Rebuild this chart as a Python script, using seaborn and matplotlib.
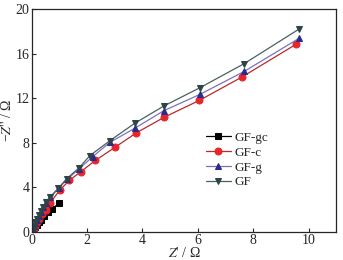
import pandas as pd
import matplotlib
matplotlib.use("Agg")
import matplotlib.pyplot as plt
import seaborn as sns

# Nyquist data (Z' , -Z'')
gc_x = [1.00, 0.75, 0.60, 0.45, 0.33, 0.25, 0.18, 0.12, 0.08, 0.05]
gc_y = [2.60, 2.10, 1.80, 1.40, 1.10, 0.85, 0.60, 0.40, 0.20, 0.05]

c_x = [9.55, 7.59, 6.05, 4.79, 3.77, 3.00, 2.30, 1.78, 1.36, 1.02, 0.66,
       0.50, 0.38, 0.28, 0.20, 0.13, 0.08, 0.04]
c_y = [16.85, 13.90, 11.80, 10.30, 8.88, 7.58, 6.42, 5.42, 4.63, 3.77, 2.60,
       2.00, 1.60, 1.20, 0.85, 0.55, 0.30, 0.10]

g_x = [9.67, 7.67, 6.08, 4.77, 3.72, 2.83, 2.20, 1.72, 1.28, 0.97, 0.66,
       0.50, 0.40, 0.32, 0.25, 0.18, 0.13, 0.09, 0.05, 0.03]
g_y = [17.40, 14.40, 12.35, 10.88, 9.30, 8.05, 6.75, 5.68, 4.72, 3.90, 3.10,
       2.60, 2.20, 1.80, 1.45, 1.10, 0.80, 0.50, 0.25, 0.05]

gf_x = [9.65, 7.67, 6.08, 4.77, 3.72, 2.83, 2.10, 1.71, 1.26, 0.96, 0.66,
        0.50, 0.40, 0.32, 0.25, 0.18, 0.13, 0.09, 0.05, 0.03]
gf_y = [18.20, 15.10, 12.95, 11.30, 9.75, 8.20, 6.85, 5.75, 4.78, 3.92, 3.12,
        2.65, 2.25, 1.85, 1.50, 1.15, 0.85, 0.55, 0.30, 0.08]

series = [
    ("GF-gc", gc_x, gc_y, "s", "black", "black"),
    ("GF-c", c_x, c_y, "o", "#b8282c", "#e8252a"),
    ("GF-g", g_x, g_y, "^", "#7a72b8", "#2a2a8a"),
    ("GF", gf_x, gf_y, "v", "#4a6066", "#2e4448"),
]

sns.set_style("ticks")
plt.rcParams["font.family"] = ["Liberation Serif", "DejaVu Serif"]
plt.rcParams["mathtext.fontset"] = "stix"

fig = plt.figure(figsize=(3.43, 2.6), dpi=100)
ax = fig.add_axes([0.0925, 0.108, 0.888, 0.857])

for name, xs, ys, mk, lc, mc in series:
    df = pd.DataFrame({"x": xs, "y": ys})
    sns.lineplot(data=df, x="x", y="y", sort=False, ax=ax, color=lc,
                 marker=mk, markersize=5, markerfacecolor=mc,
                 markeredgecolor=mc, linewidth=0.9, label=name)

ax.set_xlim(0, 11)
ax.set_ylim(0, 20)
ax.set_xticks([0, 2, 4, 6, 8, 10])
ax.set_yticks([0, 4, 8, 12, 16, 20])
ax.tick_params(direction="in", length=3, width=0.8, labelsize=10, pad=1.5)
for s in ax.spines.values():
    s.set_linewidth(0.9)
ax.set_xlabel(r"$\mathit{Z}$' / Ω", fontsize=10, labelpad=-0.5)
ax.set_ylabel(r"−$\mathit{Z}$'' / Ω", fontsize=10, labelpad=1)

ax.legend(loc="upper left", bbox_to_anchor=(0.55, 0.48), frameon=False,
          fontsize=9.5, handlelength=1.9, handletextpad=0.3, labelspacing=0.2,
          borderpad=0)

fig.savefig("out.png", dpi=100)
